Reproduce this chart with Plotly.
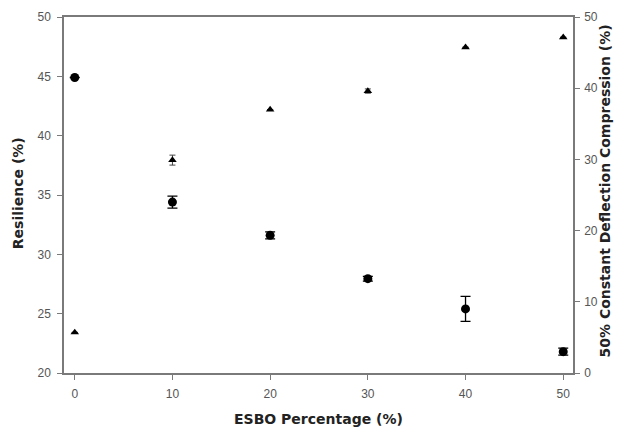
import plotly.graph_objects as go

esbo = [0, 10, 20, 30, 40, 50]
resilience = [44.9, 34.4, 31.6, 27.95, 25.4, 21.8]
resilience_err = [0.0, 0.5, 0.3, 0.2, 1.05, 0.3]
compression = [5.7, 29.9, 37.0, 39.6, 45.75, 47.15]
compression_err = [0.0, 0.7, 0.0, 0.3, 0.0, 0.0]

x_title = "ESBO Percentage (%)"
y_title = "Resilience (%)"
y2_title = "50% Constant Deflection Compression (%)"

axis_col = "#7a7a7a"
tick_font = dict(family="Liberation Sans, Arial", size=12, color="#555555")
title_font = dict(family="DejaVu Sans", size=14, color="#222222", weight="bold")

fig = go.Figure()
fig.add_trace(go.Scatter(
    x=esbo, y=resilience, mode="markers", name="Resilience",
    marker=dict(symbol="circle", size=9, color="black"),
    error_y=dict(type="data", array=resilience_err, color="black", thickness=1.3, width=5),
    yaxis="y"))
fig.add_trace(go.Scatter(
    x=esbo, y=compression, mode="markers", name="Compression",
    marker=dict(symbol="triangle-up", size=7.5, color="black"),
    error_y=dict(type="data", array=compression_err, color="#444444", thickness=1, width=3),
    yaxis="y2"))

fig.update_layout(
    width=622, height=428,
    margin=dict(l=56, r=57, t=9, b=63),
    paper_bgcolor="white", plot_bgcolor="white",
    showlegend=False,
    xaxis=dict(
        range=[-1.1, 51.0], tickvals=[0, 10, 20, 30, 40, 50], automargin=False,
        showgrid=False, zeroline=False, showline=True, linecolor=axis_col, linewidth=1.5,
        mirror=True, ticks="outside", ticklen=5, tickcolor=axis_col,
        tickfont=tick_font, ticklabelstandoff=4),
    yaxis=dict(
        range=[20, 50], tickvals=[20, 25, 30, 35, 40, 45, 50], automargin=False,
        showgrid=False, zeroline=False, showline=True, linecolor=axis_col, linewidth=1.5,
        ticks="outside", ticklen=5, tickcolor=axis_col, tickfont=tick_font,
        ticklabelstandoff=4),
    yaxis2=dict(
        range=[0, 50], tickvals=[0, 10, 20, 30, 40, 50], automargin=False,
        overlaying="y", side="right",
        showgrid=False, zeroline=False, showline=True, linecolor=axis_col, linewidth=1.5,
        ticks="outside", ticklen=5, tickcolor=axis_col, tickfont=tick_font,
        ticklabelstandoff=2),
    annotations=[
        dict(text=x_title, xref="paper", yref="paper", x=0.5, y=-0.129,
             xanchor="center", yanchor="middle", showarrow=False, font=title_font),
        dict(text=y_title, xref="paper", yref="paper", x=-0.0904, y=0.505,
             xanchor="center", yanchor="middle", showarrow=False, font=title_font,
             textangle=-90),
        dict(text=y2_title, xref="paper", yref="paper", x=1.063, y=0.51,
             xanchor="center", yanchor="middle", showarrow=False, font=title_font,
             textangle=-90),
    ],
)

fig.write_html("out.html")
